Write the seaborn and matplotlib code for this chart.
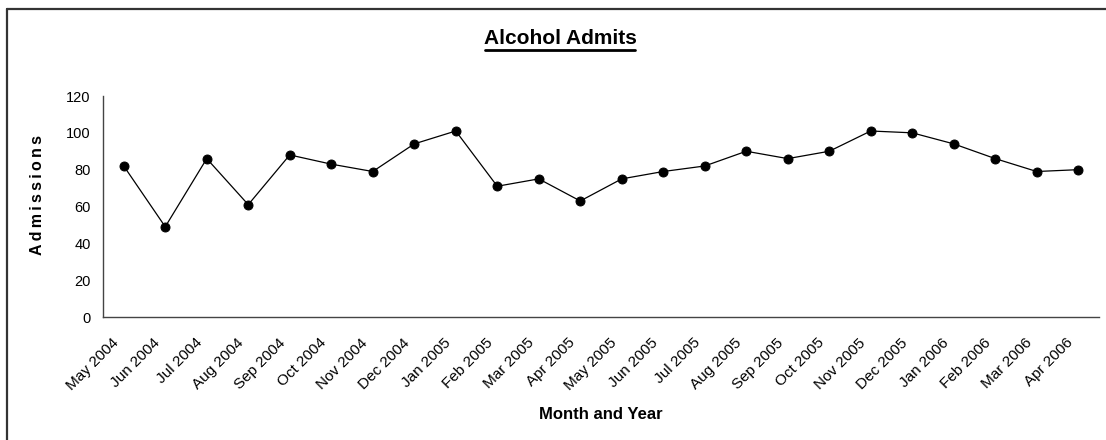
import numpy as np
import pandas as pd
import matplotlib
matplotlib.use("Agg")
import matplotlib.pyplot as plt
from matplotlib.lines import Line2D
from matplotlib.transforms import ScaledTranslation
import seaborn as sns

months = ["May 2004", "Jun 2004", "Jul 2004", "Aug 2004", "Sep 2004", "Oct 2004",
          "Nov 2004", "Dec 2004", "Jan 2005", "Feb 2005", "Mar 2005", "Apr 2005",
          "May 2005", "Jun 2005", "Jul 2005", "Aug 2005", "Sep 2005", "Oct 2005",
          "Nov 2005", "Dec 2005", "Jan 2006", "Feb 2006", "Mar 2006", "Apr 2006"]
admissions = [82, 49, 86, 61, 88, 83, 79, 94, 101, 71, 75, 63,
              75, 79, 82, 90, 86, 90, 101, 100, 94, 86, 79, 80]
y_ticks = [0, 20, 40, 60, 80, 100, 120]

title = "Alcohol Admits"
x_label = "Month and Year"
y_label = "Admissions"

sns.set_style("white")
plt.rcParams["font.family"] = ["Liberation Sans", "DejaVu Sans"]
plt.rcParams["text.color"] = "black"
plt.rcParams["xtick.color"] = "#444444"
plt.rcParams["ytick.color"] = "#444444"
plt.rcParams["xtick.labelcolor"] = "black"
plt.rcParams["ytick.labelcolor"] = "black"

df = pd.DataFrame({"month": months, "admissions": admissions})

fig = plt.figure(figsize=(11.06, 4.40), dpi=100)
ax = fig.add_axes([103 / 1106, 1 - 317 / 440, (1099 - 103) / 1106, (317 - 96) / 440])

sns.pointplot(data=df, x="month", y="admissions", order=months, color="black",
              markers="o", linestyles="-", markersize=6.5, linewidth=0.9, ax=ax)

ax.set_ylim(0, 120)
ax.set_xlim(-0.5, len(months) - 0.5)
ax.set_yticks(y_ticks)
ax.set_yticklabels([str(v) for v in y_ticks], fontsize=10.5)

ax.set_xticks(np.arange(-0.5, len(months), 1.0))
ax.set_xticklabels([])
ax.set_xticks(np.arange(len(months)), minor=True)
ax.set_xticklabels(months, minor=True, rotation=45, ha="right", va="top",
                   rotation_mode="anchor", fontsize=11)
ax.tick_params(axis="x", which="minor", length=0, pad=13.5)
ax.tick_params(axis="x", which="major", length=5, width=1, direction="out")
ax.tick_params(axis="y", length=5, width=1, direction="out", pad=4)
shift = ScaledTranslation(-12 / 100, 0, fig.dpi_scale_trans)
for lbl in ax.get_xticklabels(minor=True):
    lbl.set_transform(lbl.get_transform() + shift)

for s in ["top", "right"]:
    ax.spines[s].set_visible(False)
for s in ["left", "bottom"]:
    ax.spines[s].set_color("#444444")
    ax.spines[s].set_linewidth(1.0)

ax.set_xlabel("")
ax.set_ylabel("")
fig.text(601 / 1106, 1 - 414 / 440, x_label, ha="center", va="center",
         fontsize=12, fontweight="bold")
fig.text(38 / 1106, 1 - 195 / 440, "\u2009".join(y_label), ha="center", va="center",
         rotation=90, fontsize=11.5, fontweight="bold")
fig.text(560 / 1106, 1 - 38 / 440, title, ha="center", va="center",
         fontsize=15, fontweight="bold")
# underline under the title
fig.add_artist(Line2D([485 / 1106, 635 / 1106], [1 - 50 / 440, 1 - 50 / 440],
                      transform=fig.transFigure, color="black", linewidth=2.0))

# partial outer frame (top and left edges)
fig.add_artist(Line2D([7 / 1106, 1.0], [1 - 9 / 440, 1 - 9 / 440],
                      transform=fig.transFigure, color="#333333", linewidth=1.6))
fig.add_artist(Line2D([7 / 1106, 7 / 1106], [0.0, 1 - 9 / 440],
                      transform=fig.transFigure, color="#333333", linewidth=1.6))

fig.savefig("out.png", dpi=100, facecolor="white")
